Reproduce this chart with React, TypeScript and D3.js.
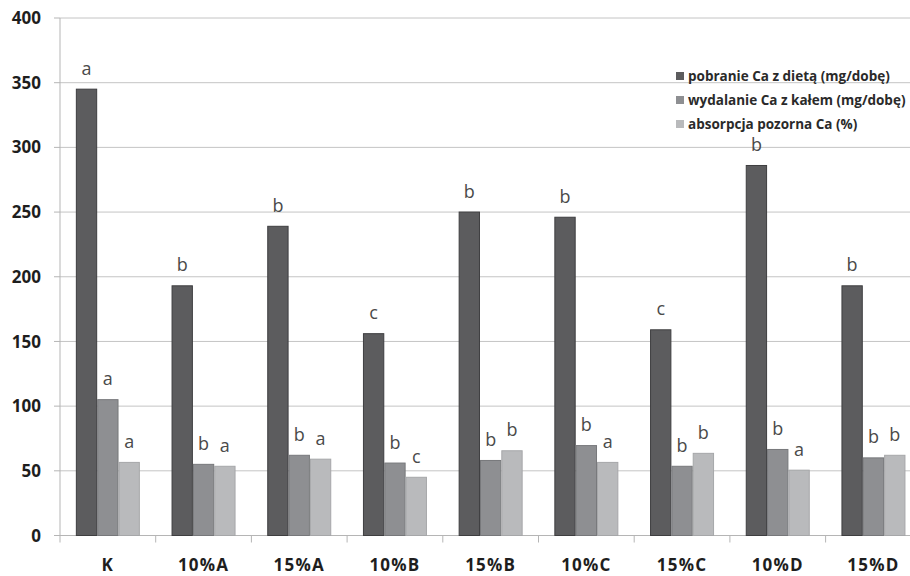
import React from "react";
import * as d3 from "d3";

const categories = ["K", "10%A", "15%A", "10%B", "15%B", "10%C", "15%C", "10%D", "15%D"];
const seriesNames = [
  "pobranie Ca z dietą (mg/dobę)",
  "wydalanie Ca z kałem (mg/dobę)",
  "absorpcja pozorna Ca (%)",
];
const intake = [345, 193, 239, 156, 250, 246, 159, 286, 193];
const excretion = [105, 55, 62, 56, 58, 69.5, 53.5, 66.5, 60];
const absorption = [56.5, 53.5, 59, 45, 65.5, 56.5, 63.5, 50.5, 62];
const intakeLetters = ["a", "b", "b", "c", "b", "b", "c", "b", "b"];
const excretionLetters = ["a", "b", "b", "b", "b", "b", "b", "b", "b"];
const absorptionLetters = ["a", "a", "a", "c", "b", "a", "b", "a", "b"];
const yTicks = [0, 50, 100, 150, 200, 250, 300, 350, 400];

const fills = ["#5c5c5e", "#8e8f92", "#b9babc"];
const strokes = ["#3e3e40", "#77787b", "#a6a7a9"];

export default function App() {
  const W = 910;
  const H = 576;
  const left = 60;
  const y = d3.scaleLinear().domain([0, 400]).range([535.5, 18]);
  const x = d3.scaleBand<string>().domain(categories).range([left, left + 9 * 95.7]).padding(0);
  const groupW = 64;
  const sub = d3
    .scaleBand<number>()
    .domain([0, 1, 2])
    .range([(x.bandwidth() - groupW) / 2, (x.bandwidth() + groupW) / 2])
    .padding(0);
  const values = [intake, excretion, absorption];
  const letters = [intakeLetters, excretionLetters, absorptionLetters];
  const boundaries = categories.map((c) => x(c)!).concat([x.range()[1]]);
  const legendY = [76, 100, 124];

  return (
    <svg
      width={W}
      height={H}
      style={{ position: "absolute", left: 0, top: 0, background: "#fff", display: "block" }}
      fontFamily="'Open Sans', sans-serif"
    >
      {yTicks.map((t) => (
        <g key={t}>
          {t > 0 && (
            <line x1={left} x2={W} y1={y(t)} y2={y(t)} stroke="#c4c4c4" strokeWidth={1} />
          )}
          <line x1={left - 6} x2={left} y1={y(t)} y2={y(t)} stroke="#b5b5b5" strokeWidth={1} />
          <text
            x={41}
            y={y(t)}
            dy="0.36em"
            textAnchor="end"
            fontSize={17}
            fontWeight={700}
            fill="#1e1e1e"
          >
            {t}
          </text>
        </g>
      ))}
      <line x1={left} x2={left} y1={y(400)} y2={y(0)} stroke="#b5b5b5" strokeWidth={1} />
      <line x1={left} x2={W} y1={y(0)} y2={y(0)} stroke="#b5b5b5" strokeWidth={1} />
      {boundaries.map((b, i) => (
        <line key={i} x1={b} x2={b} y1={y(0)} y2={y(0) + 7} stroke="#b5b5b5" strokeWidth={1} />
      ))}

      {legendY.map((ly, i) => (
        <g key={i}>
          <rect x={676} y={ly - 4} width={8} height={8} fill={fills[i]} />
          <text x={688} y={ly} dy="0.35em" fontSize={13.5} fontWeight={700} fill="#2a2a2a">
            {seriesNames[i]}
          </text>
        </g>
      ))}

      {categories.map((c, ci) => (
        <g key={c} transform={`translate(${x(c)},0)`}>
          {values.map((vals, si) => {
            const bx = sub(si)!;
            const bw = sub.bandwidth();
            const top = y(vals[ci]);
            return (
              <g key={si}>
                <rect
                  x={bx + 0.5}
                  y={top}
                  width={bw - 1}
                  height={y(0) - top}
                  fill={fills[si]}
                  stroke={strokes[si]}
                  strokeWidth={1}
                />
                <text
                  x={bx + bw / 2}
                  y={top - 14.5}
                  textAnchor="middle"
                  fontSize={18}
                  fontWeight={400}
                  fill="#4a4a4a"
                >
                  {letters[si][ci]}
                </text>
              </g>
            );
          })}
          <text
            x={x.bandwidth() / 2}
            y={571}
            textAnchor="middle"
            fontSize={17}
            fontWeight={700}
            letterSpacing={1.2}
            fill="#1e1e1e"
          >
            {c}
          </text>
        </g>
      ))}
    </svg>
  );
}
